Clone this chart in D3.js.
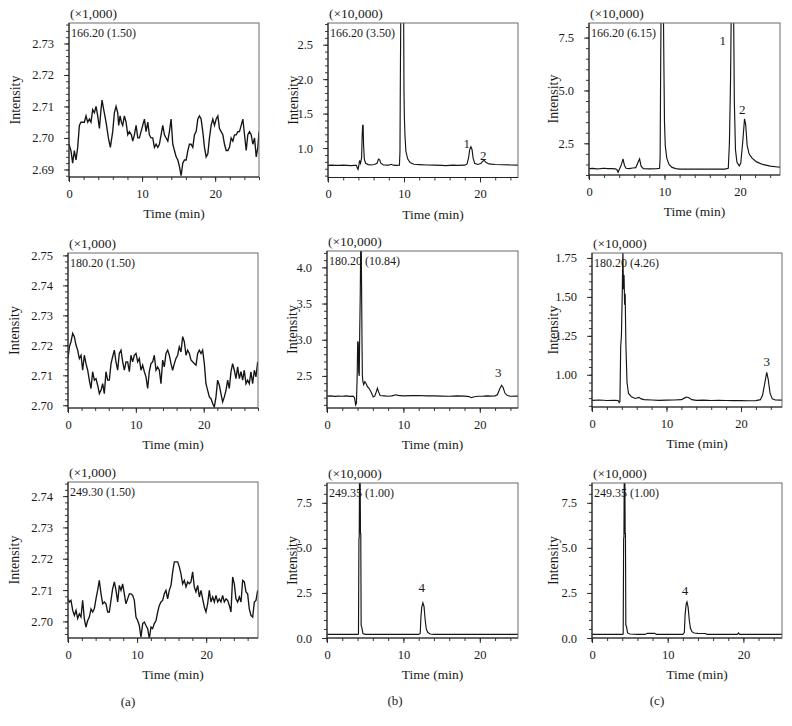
<!DOCTYPE html>
<html><head><meta charset="utf-8">
<script src="https://cdnjs.cloudflare.com/ajax/libs/d3/7.8.5/d3.min.js"></script>
<style>body{margin:0;background:#fff}svg{display:block}</style>
</head><body><svg id="chart" width="792" height="726"></svg>
<script>
// ---------------- DATA ----------------
const a1Trace=[[0,2.698],[0.27,2.696],[0.5,2.692],[0.73,2.696],[0.96,2.693],[1.19,2.697],[1.42,2.704],[1.64,2.705],[2.1,2.705],[2.33,2.707],[2.56,2.705],[2.79,2.706],[3.01,2.705],[3.24,2.709],[3.47,2.708],[3.7,2.710],[3.93,2.707],[4.16,2.703],[4.38,2.709],[4.52,2.712],[4.75,2.709],[5.07,2.705],[5.39,2.700],[5.66,2.697],[5.98,2.702],[6.21,2.708],[6.44,2.710],[6.67,2.708],[6.8,2.704],[6.99,2.707],[7.17,2.705],[7.35,2.704],[7.58,2.707],[7.81,2.705],[8.04,2.701],[8.26,2.702],[8.54,2.701],[8.72,2.699],[8.95,2.701],[9.18,2.704],[9.41,2.700],[9.63,2.700],[9.86,2.702],[10.09,2.704],[10.32,2.706],[10.55,2.702],[10.78,2.705],[11.0,2.701],[11.23,2.700],[11.46,2.700],[11.69,2.697],[11.92,2.698],[12.15,2.697],[12.37,2.698],[12.6,2.701],[12.83,2.704],[13.06,2.701],[13.29,2.700],[13.52,2.699],[13.74,2.702],[13.97,2.706],[14.2,2.698],[14.43,2.696],[14.66,2.694],[14.89,2.693],[15.11,2.691],[15.34,2.688],[15.57,2.692],[15.8,2.693],[16.03,2.693],[16.26,2.696],[16.48,2.698],[16.71,2.698],[16.94,2.697],[17.17,2.701],[17.4,2.702],[17.63,2.706],[17.85,2.707],[18.08,2.706],[18.31,2.702],[18.54,2.697],[18.77,2.694],[19.0,2.695],[19.22,2.700],[19.45,2.704],[19.68,2.706],[19.91,2.704],[20.14,2.706],[20.37,2.707],[20.59,2.703],[20.82,2.702],[21.05,2.701],[21.28,2.698],[21.51,2.696],[21.74,2.696],[21.96,2.697],[22.19,2.700],[22.42,2.699],[22.65,2.701],[22.88,2.701],[23.11,2.702],[23.33,2.702],[23.56,2.704],[23.79,2.706],[24.02,2.701],[24.25,2.696],[24.47,2.701],[24.7,2.702],[24.93,2.701],[25.16,2.698],[25.39,2.700],[25.62,2.694],[25.84,2.697],[26.0,2.702]];

const a2Trace=[[0,2.7156],[0.2,2.7195],[0.44,2.7212],[0.69,2.724],[0.93,2.7229],[1.18,2.7201],[1.42,2.7184],[1.67,2.7156],[1.92,2.7167],[2.16,2.7117],[2.41,2.7167],[2.65,2.7139],[2.9,2.7117],[3.14,2.7084],[3.39,2.7056],[3.63,2.7112],[3.88,2.7084],[4.13,2.7089],[4.37,2.7067],[4.62,2.7039],[4.86,2.705],[5.11,2.7072],[5.35,2.7039],[5.6,2.7112],[5.84,2.7084],[6.09,2.7084],[6.34,2.7139],[6.58,2.7162],[6.83,2.7184],[7.07,2.7145],[7.32,2.7117],[7.56,2.7173],[7.81,2.7184],[8.06,2.7145],[8.3,2.7117],[8.55,2.7145],[8.79,2.7145],[9.04,2.7112],[9.28,2.7167],[9.53,2.7145],[9.77,2.7167],[10.02,2.7173],[10.27,2.7145],[10.51,2.7156],[10.76,2.7117],[11.0,2.7134],[11.25,2.7112],[11.49,2.7095],[11.74,2.7056],[11.98,2.7112],[12.23,2.7139],[12.48,2.7145],[12.72,2.7167],[12.97,2.7117],[13.21,2.7128],[13.46,2.7117],[13.7,2.7072],[13.95,2.7151],[14.19,2.7128],[14.44,2.7173],[14.69,2.7184],[14.93,2.7167],[15.18,2.7139],[15.42,2.7117],[15.67,2.7139],[15.91,2.7156],[16.16,2.7167],[16.4,2.7195],[16.65,2.7178],[16.9,2.7229],[17.14,2.7212],[17.39,2.7167],[17.63,2.7184],[17.88,2.7173],[18.12,2.7151],[18.37,2.7145],[18.61,2.7139],[18.86,2.7134],[19.11,2.7173],[19.35,2.7184],[19.6,2.7173],[19.84,2.7184],[20.09,2.7139],[20.33,2.7072],[20.58,2.705],[20.83,2.7028],[21.07,2.7022],[21.32,2.7006],[21.56,2.6994],[21.81,2.7028],[22.05,2.7084],[22.3,2.7067],[22.54,2.7039],[22.79,2.7011],[23.04,2.7028],[23.28,2.705],[23.53,2.7084],[23.77,2.7056],[24.02,2.7112],[24.26,2.7139],[24.51,2.7117],[24.75,2.7089],[25.0,2.7128],[25.25,2.7089],[25.49,2.7112],[25.74,2.7084],[25.98,2.7117],[26.23,2.7072],[26.47,2.7084],[26.72,2.7072],[26.96,2.7112],[27.21,2.7072],[27.46,2.7117],[27.7,2.7095],[27.95,2.7145]];

const a3Trace=[[0,2.7072],[0.19,2.7062],[0.43,2.7067],[0.68,2.7035],[0.92,2.7019],[1.16,2.7035],[1.4,2.7009],[1.64,2.7024],[1.88,2.7014],[2.12,2.7067],[2.36,2.7009],[2.6,2.6982],[2.85,2.7003],[3.09,2.7014],[3.33,2.704],[3.57,2.703],[3.81,2.704],[4.05,2.7072],[4.29,2.7099],[4.53,2.7131],[4.78,2.7088],[5.02,2.7056],[5.26,2.7062],[5.5,2.7056],[5.74,2.703],[5.98,2.703],[6.22,2.7067],[6.46,2.7104],[6.71,2.7126],[6.95,2.7099],[7.19,2.7062],[7.43,2.7115],[7.67,2.7099],[7.91,2.712],[8.15,2.7088],[8.39,2.7056],[8.63,2.7072],[8.88,2.7088],[9.12,2.7088],[9.36,2.7083],[9.6,2.7067],[9.84,2.7014],[10.08,2.7003],[10.32,2.6987],[10.56,2.695],[10.81,2.6993],[11.05,2.6998],[11.29,2.6987],[11.53,2.6977],[11.77,2.6945],[12.01,2.6982],[12.25,2.6977],[12.49,2.6993],[12.74,2.7003],[12.98,2.703],[13.22,2.7051],[13.46,2.7062],[13.7,2.7067],[13.94,2.7088],[14.18,2.7099],[14.42,2.7072],[14.66,2.7099],[14.91,2.7115],[15.15,2.7158],[15.39,2.719],[15.63,2.719],[15.87,2.719],[16.11,2.7174],[16.35,2.7152],[16.59,2.712],[16.84,2.7131],[17.08,2.711],[17.32,2.7126],[17.56,2.712],[17.8,2.7126],[18.04,2.7158],[18.28,2.711],[18.52,2.7094],[18.77,2.7115],[19.01,2.7078],[19.25,2.7099],[19.49,2.7072],[19.73,2.7046],[19.97,2.703],[20.21,2.7056],[20.45,2.7099],[20.69,2.7062],[20.94,2.7078],[21.18,2.7062],[21.42,2.7083],[21.66,2.7062],[21.9,2.7072],[22.14,2.7062],[22.38,2.7083],[22.62,2.7062],[22.87,2.7072],[23.11,2.7067],[23.35,2.7051],[23.59,2.703],[23.83,2.7142],[24.07,2.712],[24.31,2.7072],[24.55,2.7062],[24.8,2.7078],[25.04,2.7062],[25.28,2.7131],[25.52,2.7126],[25.76,2.7094],[26.0,2.7088],[26.24,2.704],[26.48,2.7019],[26.73,2.7014],[26.97,2.7062],[27.21,2.7067],[27.45,2.7099]];

const b1Trace=[[0,0.75],[0.5,0.752],[1,0.748],[1.5,0.75],[2,0.752],[2.5,0.749],[3,0.745],[3.5,0.75],[3.75,0.75],[3.85,0.71],[3.95,0.69],[4.05,0.74],[4.15,0.82],[4.28,0.78],[4.42,0.86],[4.5,1.2],[4.56,1.33],[4.62,1.33],[4.68,1.05],[4.78,0.84],[4.95,0.78],[5.3,0.76],[5.7,0.755],[6.1,0.762],[6.45,0.78],[6.65,0.84],[6.8,0.83],[6.95,0.78],[7.3,0.755],[8,0.752],[8.3,0.765],[8.6,0.752],[9,0.75],[9.4,0.752],[9.47,0.95],[9.52,2.0],[9.58,3.0],[9.95,3.0],[10.0,1.8],[10.05,1.45],[10.12,1.2],[10.25,0.95],[10.5,0.84],[10.8,0.79],[11.3,0.765],[12,0.76],[13,0.755],[14,0.752],[15,0.75],[15.5,0.745],[16,0.748],[16.5,0.752],[17,0.75],[18,0.752],[18.3,0.77],[18.5,0.86],[18.65,0.98],[18.8,1.02],[18.95,0.98],[19.1,0.85],[19.3,0.78],[19.7,0.762],[20.1,0.775],[20.35,0.81],[20.55,0.82],[20.8,0.79],[21.2,0.77],[22,0.762],[23,0.758],[24,0.755],[25,0.752]];

const c1Trace=[[0,1.3],[0.5,1.31],[1,1.29],[1.5,1.3],[2,1.32],[2.5,1.3],[3,1.3],[3.5,1.29],[3.7,1.25],[3.85,1.13],[4.0,1.25],[4.3,1.5],[4.5,1.76],[4.7,1.45],[4.9,1.32],[5.3,1.3],[5.8,1.33],[6.2,1.35],[6.5,1.6],[6.7,1.76],[6.9,1.42],[7.2,1.3],[8,1.29],[9,1.3],[9.35,1.32],[9.42,1.8],[9.48,5.3],[9.55,9],[9.85,9],[9.92,6.2],[10.0,3.5],[10.1,2.4],[10.3,1.8],[10.6,1.5],[11,1.36],[11.5,1.3],[12,1.28],[13,1.28],[14,1.28],[15,1.28],[16,1.28],[17,1.28],[18,1.28],[18.45,1.32],[18.6,2.5],[18.75,5.5],[18.85,9],[19.15,9],[19.25,4.5],[19.4,2.2],[19.6,1.6],[19.9,1.43],[20.1,1.55],[20.35,2.5],[20.6,3.66],[20.75,3.4],[20.95,2.4],[21.2,2.0],[21.6,1.8],[22.2,1.62],[23,1.5],[24,1.42],[25,1.38],[25.3,1.37]];

const b2Trace=[[0,2.22],[0.5,2.225],[1,2.218],[1.5,2.222],[2,2.22],[2.5,2.224],[3,2.218],[3.4,2.22],[3.6,2.2],[3.75,2.1],[3.85,2.12],[3.95,2.5],[4.02,2.98],[4.1,2.95],[4.15,2.55],[4.22,2.5],[4.28,3.08],[4.35,3.6],[4.42,4.4],[4.48,4.4],[4.52,3.8],[4.58,3.0],[4.63,2.5],[4.7,2.42],[4.8,2.38],[4.95,2.42],[5.1,2.4],[5.3,2.35],[5.5,2.33],[5.8,2.27],[6.05,2.21],[6.25,2.22],[6.45,2.28],[6.6,2.33],[6.75,2.28],[6.95,2.23],[7.5,2.225],[8,2.22],[8.5,2.225],[9,2.24],[9.3,2.232],[10,2.225],[11,2.228],[12,2.23],[13,2.225],[14,2.224],[15,2.222],[16,2.22],[17,2.225],[18,2.222],[18.6,2.215],[18.9,2.2],[19.3,2.212],[19.8,2.22],[20.5,2.222],[21,2.225],[21.5,2.222],[22,2.225],[22.3,2.24],[22.6,2.32],[22.85,2.37],[23.05,2.34],[23.3,2.26],[23.6,2.23],[24,2.22],[25,2.222]];

const c2Trace=[[0,0.836],[1,0.838],[2,0.835],[3,0.836],[3.5,0.835],[3.65,0.822],[3.75,0.83],[3.85,1.18],[3.95,1.25],[4.05,1.5],[4.15,1.8],[4.22,1.55],[4.3,1.64],[4.38,1.45],[4.45,1.52],[4.55,1.19],[4.7,0.95],[4.9,0.88],[5.3,0.858],[5.8,0.848],[6.3,0.855],[6.6,0.845],[7,0.84],[8,0.838],[9,0.836],[10,0.837],[11,0.838],[12,0.84],[12.4,0.85],[12.7,0.857],[13.0,0.852],[13.4,0.84],[14,0.836],[15,0.837],[16,0.835],[17,0.836],[18,0.835],[19,0.834],[20,0.834],[21,0.833],[22,0.834],[22.6,0.84],[22.9,0.87],[23.2,0.95],[23.45,1.015],[23.65,0.97],[23.9,0.88],[24.2,0.845],[24.6,0.838],[25.5,0.837]];

const b3Trace=[[0,0.2],[1,0.2],[2,0.2],[3,0.2],[4,0.2],[4.12,0.22],[4.18,5.5],[4.22,5.6],[4.26,9.2],[4.34,9.2],[4.38,5.8],[4.42,5.8],[4.47,0.7],[4.55,0.6],[4.7,0.25],[5,0.2],[6,0.2],[8,0.2],[10,0.2],[12,0.2],[12.2,0.25],[12.3,1.2],[12.4,1.7],[12.55,1.95],[12.7,1.75],[12.85,1.0],[13.0,0.5],[13.2,0.3],[13.5,0.22],[14,0.2],[16,0.2],[18,0.2],[20,0.2],[22,0.2],[25,0.2]];

const c3Trace=[[0,0.2],[1,0.2],[2,0.2],[3,0.2],[4,0.2],[4.12,0.22],[4.18,5.5],[4.22,5.6],[4.26,9.2],[4.34,9.2],[4.38,5.8],[4.42,5.8],[4.47,0.7],[4.55,0.65],[4.7,0.28],[5,0.22],[6,0.2],[7,0.2],[7.3,0.26],[8.3,0.26],[8.5,0.2],[10,0.2],[12,0.2],[12.2,0.3],[12.3,1.3],[12.45,1.9],[12.55,2.0],[12.7,1.7],[12.85,1.0],[13.0,0.55],[13.2,0.35],[13.5,0.28],[14,0.26],[15,0.25],[15.2,0.2],[17,0.2],[19.2,0.2],[19.35,0.28],[19.5,0.2],[22,0.2],[25.1,0.2]];

// tick labels
const xTicks=[0,10,20];
const yTicksA1=[2.69,2.70,2.71,2.72,2.73];
const yTicksA2=[2.70,2.71,2.72,2.73,2.74,2.75];
const yTicksA3=[2.70,2.71,2.72,2.73,2.74];
const yTicksB1=[1.0,1.5,2.0,2.5];
const yTicksC1=[2.5,5.0,7.5];
const yTicksB2=[2.5,3.0,3.5,4.0];
const yTicksC2=[1.00,1.25,1.50,1.75];
const yTicksBC3=[0.0,2.5,5.0,7.5];

// text labels
const ionLabels=["166.20 (1.50)","166.20 (3.50)","166.20 (6.15)","180.20 (1.50)","180.20 (10.84)","180.20 (4.26)","249.30 (1.50)","249.35 (1.00)","249.35 (1.00)"];
const multLabels=["(×1,000)","(×10,000)","(×10,000)","(×1,000)","(×10,000)","(×10,000)","(×1,000)","(×10,000)","(×10,000)"];
const peakLabelsB1=[[18.25,1.062,"1"],[20.43,0.9,"2"]];
const peakLabelsC1=[[17.71,7.35,"1"],[20.3,4.12,"2"]];
const peakLabelsB2=[[22.42,2.55,"3"]];
const peakLabelsC2=[[23.45,1.084,"3"]];
const peakLabelsB3=[[12.4,2.81,"4"]];
const peakLabelsC3=[[12.29,2.66,"4"]];
const columnLabels=["(a)","(b)","(c)"];
const xTitle="Time (min)", yTitle="Intensity";

// ---------------- LAYOUT ----------------
const FONT='"Liberation Serif","Times New Roman",serif';
const panels=[
 {box:[69,23,259,177],   xDom:[0,26],   yDom:[2.6876,2.7365], yMajor:yTicksA1, yMinor:0.002, yFmt:".2f", data:a1Trace, ylx:-54, noisy:true, ann:[]},
 {box:[328,23,518,177.5],xDom:[0,25],   yDom:[0.573,2.815],   yMajor:yTicksB1, yMinor:0.1,   yFmt:".1f", data:b1Trace, ylx:-35, ann:peakLabelsB1},
 {box:[589,23,780,175],  xDom:[0,25.3], yDom:[1.0,8.19],      yMajor:yTicksC1, yMinor:0.5,   yFmt:".1f", data:c1Trace, ylx:-36, ann:peakLabelsC1},
 {box:[68,253,258,408],  xDom:[0,28],   yDom:[2.6991,2.7508], yMajor:yTicksA2, yMinor:0.002, yFmt:".2f", data:a2Trace, ylx:-54, noisy:true, ann:[]},
 {box:[327,251,518,408], xDom:[0,25],   yDom:[2.057,4.226],   yMajor:yTicksB2, yMinor:0.1,   yFmt:".1f", data:b2Trace, ylx:-35, ann:peakLabelsB2},
 {box:[592,253,782,407], xDom:[0,25.5], yDom:[0.793,1.782],   yMajor:yTicksC2, yMinor:0.05,  yFmt:".2f", data:c2Trace, ylx:-39, ann:peakLabelsC2},
 {box:[68,482,258,638],  xDom:[0,27.5], yDom:[2.6947,2.7445], yMajor:yTicksA3, yMinor:0.002, yFmt:".2f", data:a3Trace, ylx:-54, noisy:true, ann:[]},
 {box:[327,483,518,638], xDom:[0,25],   yDom:[0,8.6],         yMajor:yTicksBC3,yMinor:0.5,   yFmt:".1f", data:b3Trace, ylx:-35, ann:peakLabelsB3},
 {box:[592,483,782,638], xDom:[0,25.1], yDom:[0,8.6],         yMajor:yTicksBC3,yMinor:0.5,   yFmt:".1f", data:c3Trace, ylx:-39, ann:peakLabelsC3}
];

const svg=d3.select("#chart");
function minorTicks(dom,step){
  const out=[];const s=Math.ceil(dom[0]/step-1e-6);const e=Math.floor(dom[1]/step+1e-6);
  for(let k=s;k<=e;k++) out.push(+(k*step).toFixed(6));
  return out;
}
function styleAxis(g,size){
  g.attr("font-family",FONT).attr("font-size",size);
  g.select(".domain").remove();
  g.selectAll(".tick line").attr("stroke","#222").attr("stroke-width",0.9);
  g.selectAll(".tick text").attr("fill","#1a1a1a");
}

panels.forEach((p,i)=>{
  const [L,T,R,B]=p.box;
  const x=d3.scaleLinear().domain(p.xDom).range([L,R]);
  const y=d3.scaleLinear().domain(p.yDom).range([B,T]);
  const g=svg.append("g");
  const cid="clip"+i;
  svg.append("clipPath").attr("id",cid).append("rect").attr("x",L).attr("y",T).attr("width",R-L).attr("height",B-T);

  g.append("text").attr("x",L+2).attr("y",T+13.5).attr("font-family",FONT).attr("font-size",12).attr("fill","#1a1a1a").text(ionLabels[i]);
  g.append("text").attr("x",L+1).attr("y",T-5).attr("font-family",FONT).attr("font-size",13.5).attr("fill","#1a1a1a").text(multLabels[i]);

  const line=d3.line().x(d=>x(d[0])).y(d=>y(d[1]));
  g.append("path").datum(p.data).attr("clip-path",`url(#${cid})`)
    .attr("fill","none").attr("stroke","#151515").attr("stroke-width",p.noisy?1.35:1.15).attr("stroke-linejoin","miter")
    .attr("d",line);

  p.ann.forEach(a=>{
    g.append("text").attr("x",x(a[0])).attr("y",y(a[1])).attr("dy","0.35em").attr("text-anchor","middle")
     .attr("font-family",FONT).attr("font-size",13).attr("fill","#1a1a1a").text(a[2]);
  });

  g.append("rect").attr("x",L).attr("y",T).attr("width",R-L).attr("height",B-T).attr("fill","none").attr("stroke","#6a6a6a").attr("stroke-width",1);
  g.append("line").attr("x1",L).attr("x2",L).attr("y1",T).attr("y2",B+4).attr("stroke","#222").attr("stroke-width",1.1);
  g.append("line").attr("x1",L).attr("x2",R).attr("y1",B).attr("y2",B).attr("stroke","#222").attr("stroke-width",1.1);

  const yMin=minorTicks(p.yDom,p.yMinor);
  g.append("g").attr("transform",`translate(${L},0)`).call(d3.axisLeft(y).tickValues(yMin).tickSize(3).tickFormat("")).call(s=>styleAxis(s,12));
  g.append("g").attr("transform",`translate(${L},0)`).call(d3.axisLeft(y).tickValues(p.yMajor).tickSize(5).tickPadding(10).tickFormat(d3.format(p.yFmt))).call(s=>styleAxis(s,12.5));
  const xMin=minorTicks(p.xDom,2);
  g.append("g").attr("transform",`translate(0,${B})`).call(d3.axisBottom(x).tickValues(xMin).tickSize(3).tickFormat("")).call(s=>styleAxis(s,12));
  g.append("g").attr("transform",`translate(0,${B})`).call(d3.axisBottom(x).tickValues(xTicks).tickSize(5).tickPadding(7).tickFormat(d3.format("d"))).call(s=>styleAxis(s,12.5));

  g.append("text").attr("x",(L+R)/2+10).attr("y",B+41).attr("text-anchor","middle").attr("font-family",FONT).attr("font-size",13.5).attr("fill","#1a1a1a").text(xTitle);
  g.append("text").attr("transform",`translate(${L+p.ylx},${(T+B)/2}) rotate(-90)`).attr("text-anchor","middle").attr("dy","0.35em")
    .attr("font-family",FONT).attr("font-size",14).attr("fill","#1a1a1a").text(yTitle);
});

const letterPos=[[128,706],[395,705],[657,705]];
columnLabels.forEach((t,i)=>{
  svg.append("text").attr("x",letterPos[i][0]).attr("y",letterPos[i][1]).attr("text-anchor","middle")
   .attr("font-family",FONT).attr("font-size",13).attr("fill","#1a1a1a").text(t);
});
</script>
</body></html>
